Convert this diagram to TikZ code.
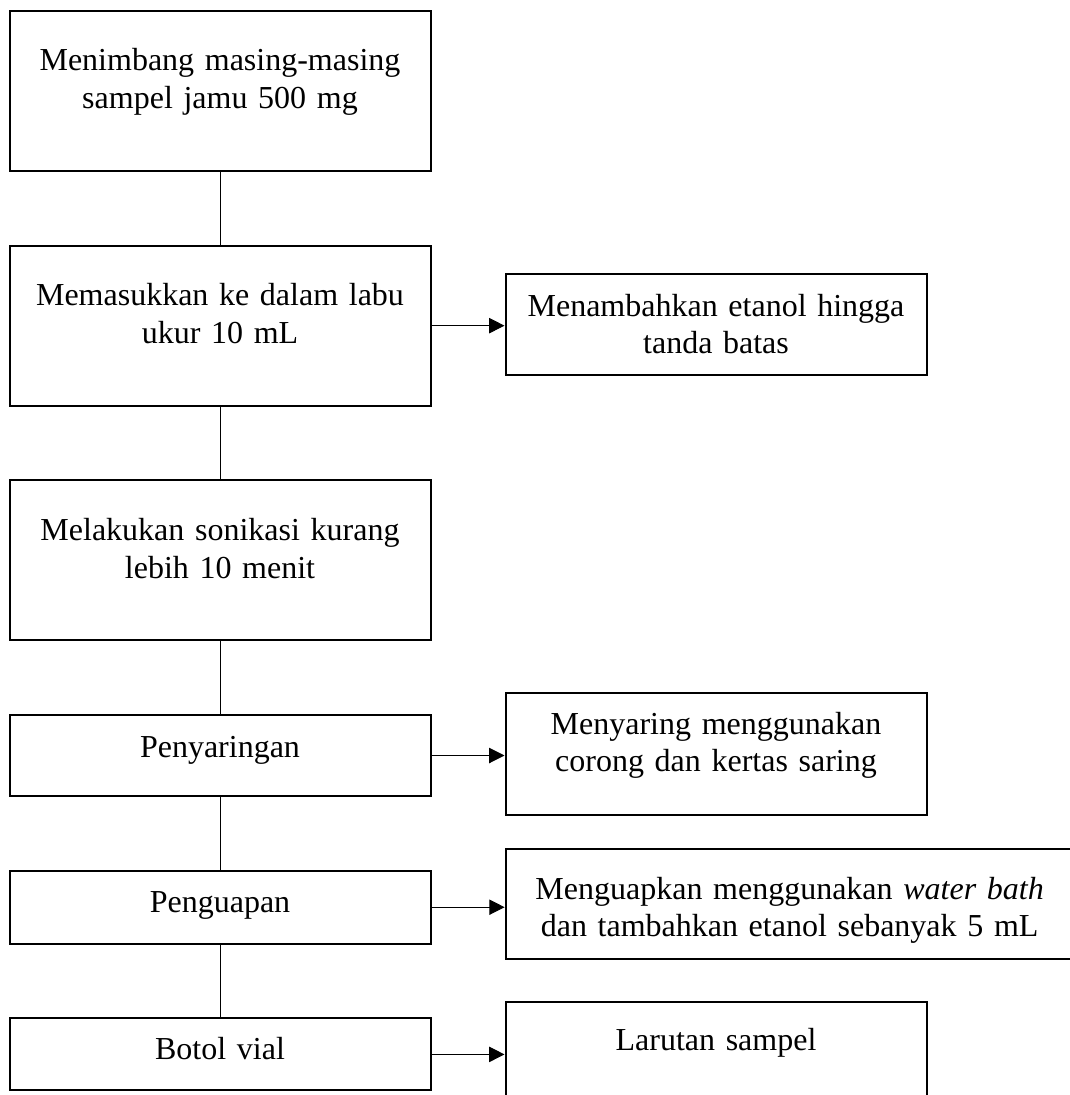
\documentclass[tikz,border=0pt]{standalone}
\usepackage{fontspec}
\setmainfont{Liberation Serif}
\usetikzlibrary{positioning,arrows.meta}

\begin{document}
\begin{tikzpicture}[x=0.75pt,y=-0.75pt]
\tikzset{every node/.style={font=\fontsize{24}{28.3}\selectfont},
	stepbox/.style={draw, line width=1.5pt, inner sep=0pt, text width=315.75pt, align=center},
	bigbox/.style={stepbox, text height=45pt, text depth=75pt},
	link/.style={line width=0.75pt},
	arr/.style={line width=0.75pt, -{Triangle[length=11.5pt,width=11.5pt]}},
	node distance=54.5pt}
	\useasboundingbox (0,0) rectangle (1070,1095);
	% main column
	\node[bigbox, anchor=north] (timbang) at (220,10) {Menimbang masing-masing\\sampel jamu 500 mg};
	\node[bigbox, below=of timbang] (labu) {Memasukkan ke dalam labu\\ukur 10 mL};
	\node[bigbox, below=of labu] (sonikasi) {Melakukan sonikasi kurang\\lebih 10 menit};
	\node[stepbox, text height=32pt, text depth=28.75pt, below=of sonikasi] (saring) {Penyaringan};
	\node[stepbox, text height=31.3pt, text depth=23.5pt, below=of saring] (uap) {Penguapan};
	\node[stepbox, text height=30.75pt, text depth=23.25pt, below=of uap] (vial) {Botol vial};
	% side steps
	\node[stepbox, anchor=north, text height=31.5pt, text depth=44.25pt] (etanol) at (716,273) {Menambahkan etanol hingga\\tanda batas};
	\node[stepbox, anchor=north, text height=30.75pt, text depth=60.75pt] (corong) at (716,692) {Menyaring menggunakan\\corong dan kertas saring};
	\node[stepbox, anchor=north, text width=426pt, text height=37.5pt, text depth=45pt] (waterbath) at (789.6,848) {Menguapkan menggunakan \textit{water bath}\\dan tambahkan etanol sebanyak 5 mL};
	\node[stepbox, anchor=north, text height=36.75pt, text depth=60.75pt] (larutan) at (716,1000.7) {Larutan sampel};

	\draw[link] (timbang) -- (labu);
	\draw[link] (labu) -- (sonikasi);
	\draw[link] (sonikasi) -- (saring);
	\draw[link] (saring) -- (uap);
	\draw[link] (uap) -- (vial);

	\draw[arr] (labu.east) -- (labu.east -| etanol.west);
	\draw[arr] (saring.east) -- (saring.east -| corong.west);
	\draw[arr] (uap.east) -- (uap.east -| waterbath.west);
	\draw[arr] (vial.east) -- (vial.east -| larutan.west);
\end{tikzpicture}
\end{document}
